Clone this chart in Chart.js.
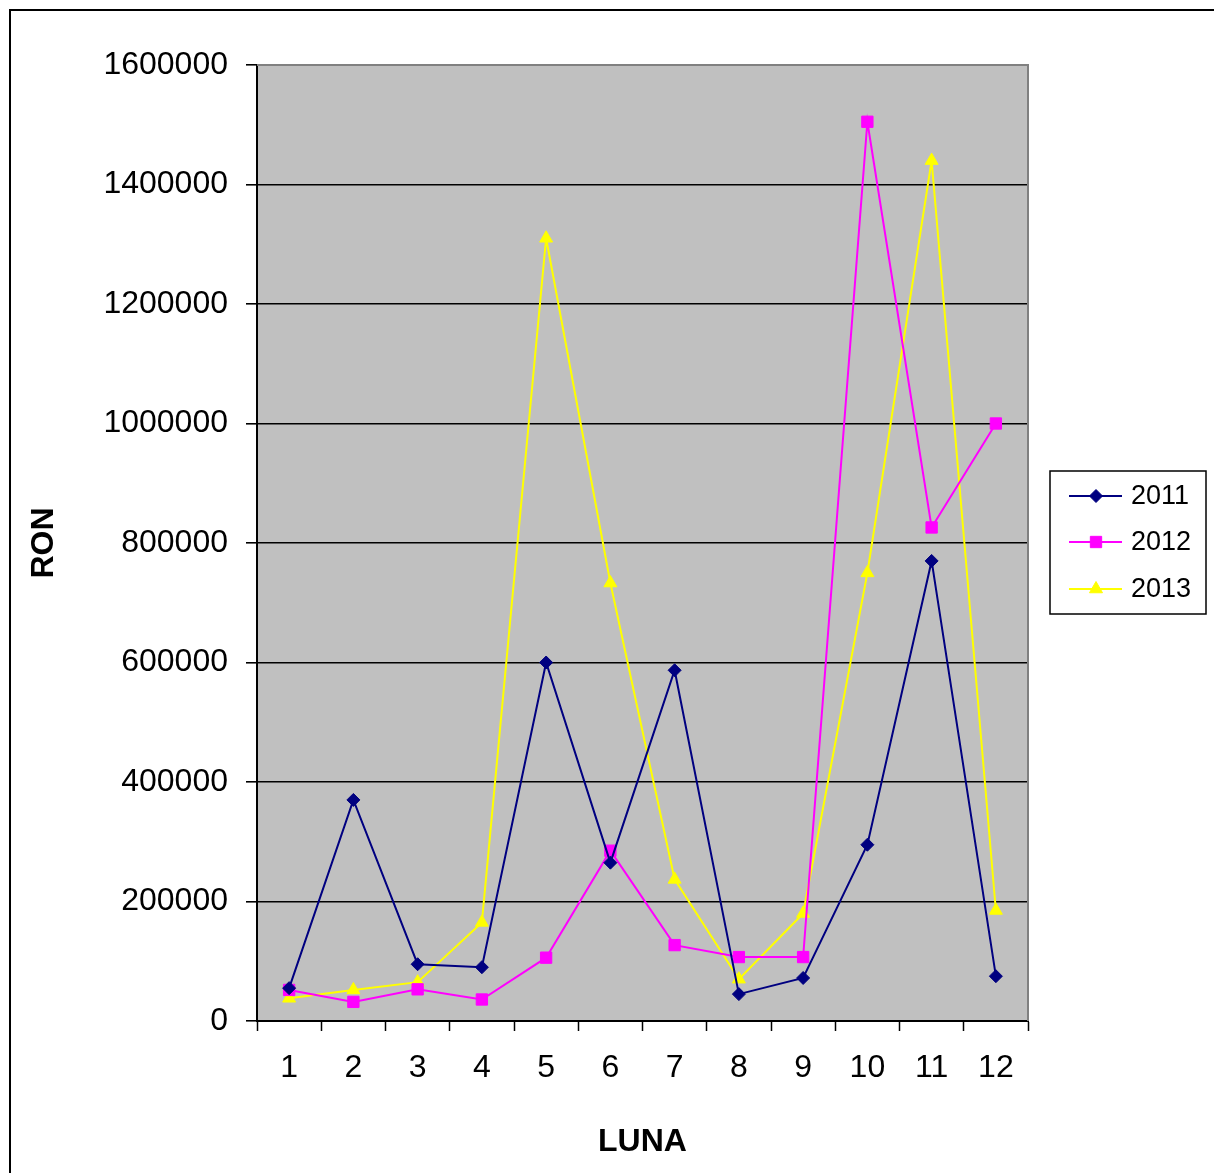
<!DOCTYPE html>
<html>
<head>
<meta charset="utf-8">
<script src="https://cdn.jsdelivr.net/npm/chart.js@4.4.1/dist/chart.umd.min.js"></script>
<style>
html,body{margin:0;padding:0;background:#fff;}
#wrap{width:1214px;height:1173px;position:relative;}
canvas{display:block;}
</style>
</head>
<body>
<div id="wrap"><canvas id="c" width="1214" height="1173"></canvas></div>
<script>
// ---- data ----
const months = ['1','2','3','4','5','6','7','8','9','10','11','12'];
const seriesNames = ['2011','2012','2013'];
const values2011 = [55000, 370000, 95000, 90000, 600000, 265000, 587000, 45000, 72000, 295000, 770000, 75000];
const values2012 = [52000, 32000, 53000, 36000, 106000, 285000, 127000, 107000, 107000, 1505000, 826000, 1000000];
const values2013 = [38000, 52000, 65000, 165000, 1310000, 733000, 237000, 70000, 180000, 750000, 1440000, 185000];
const yTickValues = [0, 200000, 400000, 600000, 800000, 1000000, 1200000, 1400000, 1600000];
const xTitle = 'LUNA';
const yTitle = 'RON';

const FONT = '"Liberation Sans", Arial, sans-serif';
const PLOT_BG = '#C0C0C0';

const bgPlugin = {
  id: 'bgPlugin',
  beforeDraw(chart) {
    const ctx = chart.ctx;
    const a = chart.chartArea;
    ctx.save();
    ctx.fillStyle = '#ffffff';
    ctx.fillRect(0, 0, chart.width, chart.height);
    ctx.strokeStyle = '#000';
    ctx.lineWidth = 2;
    ctx.beginPath();
    ctx.moveTo(10, chart.height);
    ctx.lineTo(10, 10);
    ctx.lineTo(chart.width, 10);
    ctx.stroke();
    ctx.fillStyle = PLOT_BG;
    ctx.fillRect(a.left, a.top, a.right - a.left, a.bottom - a.top);
    ctx.restore();
  },
  beforeDatasetsDraw(chart) {
    const ctx = chart.ctx;
    const a = chart.chartArea;
    ctx.save();
    ctx.strokeStyle = '#808080';
    ctx.lineWidth = 2;
    ctx.beginPath();
    ctx.moveTo(a.left, a.top);
    ctx.lineTo(a.right, a.top);
    ctx.lineTo(a.right, a.bottom);
    ctx.stroke();
    ctx.restore();
  }
};

const legendPlugin = {
  id: 'customLegend',
  afterDraw(chart) {
    const ctx = chart.ctx;
    ctx.save();
    const bx = 1050, by = 471, bw = 156, bh = 143;
    ctx.fillStyle = '#fff';
    ctx.fillRect(bx, by, bw, bh);
    ctx.strokeStyle = '#000';
    ctx.lineWidth = 1.5;
    ctx.strokeRect(bx, by, bw, bh);
    const rows = [496, 542, 589];
    chart.data.datasets.forEach((ds, i) => {
      const y = rows[i];
      ctx.strokeStyle = ds.borderColor;
      ctx.lineWidth = ds.borderWidth;
      ctx.beginPath();
      ctx.moveTo(1069, y);
      ctx.lineTo(1122, y);
      ctx.stroke();
      ctx.fillStyle = ds.pointBackgroundColor;
      ctx.strokeStyle = ds.pointBorderColor;
      ctx.lineWidth = 1;
      Chart.helpers.drawPoint(ctx, {pointStyle: ds.pointStyle, radius: ds.pointRadius, rotation: 0, borderWidth: 1}, 1096, y);
      ctx.fillStyle = '#000';
      ctx.font = '27px ' + FONT;
      ctx.textBaseline = 'middle';
      ctx.textAlign = 'left';
      ctx.fillText(ds.label, 1131, y + 1);
    });
    ctx.restore();
  }
};

function makeDataset(label, data, color, style, radius) {
  return {
    label: label,
    data: data,
    borderColor: color,
    backgroundColor: color,
    pointBackgroundColor: color,
    pointBorderColor: color,
    pointBorderWidth: 1,
    pointStyle: style,
    pointRadius: radius,
    pointHoverRadius: radius,
    borderWidth: 2,
    tension: 0,
    fill: false
  };
}

new Chart(document.getElementById('c'), {
  type: 'line',
  data: {
    labels: months,
    datasets: [
      makeDataset(seriesNames[0], values2011, '#000080', 'rectRot', 6.5),
      makeDataset(seriesNames[1], values2012, '#FF00FF', 'rect', 8),
      makeDataset(seriesNames[2], values2013, '#FFFF00', 'triangle', 7.5)
    ]
  },
  options: {
    responsive: false,
    animation: false,
    devicePixelRatio: 1,
    layout: { padding: { top: 65, right: 186, bottom: 0, left: 0 } },
    plugins: {
      legend: { display: false },
      tooltip: { enabled: false },
      title: { display: false }
    },
    scales: {
      x: {
        type: 'category',
        offset: true,
        afterFit(scale) { scale.height = 152; },
        grid: {
          offset: true,
          drawOnChartArea: false,
          drawTicks: true,
          tickLength: 10,
          tickColor: '#000',
          tickWidth: 1.5
        },
        border: { display: true, color: '#000', width: 2 },
        ticks: {
          color: '#000',
          font: { family: FONT, size: 32 },
          padding: 18,
          maxRotation: 0,
          autoSkip: false
        },
        title: {
          display: true,
          text: xTitle,
          color: '#000',
          font: { family: FONT, size: 32, weight: 'bold' },
          padding: { top: 0, bottom: 12 }
        }
      },
      y: {
        min: yTickValues[0],
        max: yTickValues[yTickValues.length - 1],
        afterFit(scale) { scale.width = 257; },
        afterBuildTicks(scale) { scale.ticks = yTickValues.map(v => ({ value: v })); },
        grid: {
          drawOnChartArea: true,
          drawTicks: true,
          tickLength: 11,
          tickColor: '#000',
          lineWidth: 1.6,
          color: ctx => (ctx.tick && ctx.tick.value === yTickValues[yTickValues.length - 1]) ? '#808080' : '#000'
        },
        border: { display: true, color: '#000', width: 2 },
        ticks: {
          color: '#000',
          font: { family: FONT, size: 32 },
          padding: 18,
          callback: v => String(v)
        },
        title: {
          display: true,
          text: yTitle,
          color: '#000',
          font: { family: FONT, size: 32, weight: 'bold' },
          padding: { top: 25, bottom: 0 }
        }
      }
    }
  },
  plugins: [bgPlugin, legendPlugin]
});
</script>
</body>
</html>
